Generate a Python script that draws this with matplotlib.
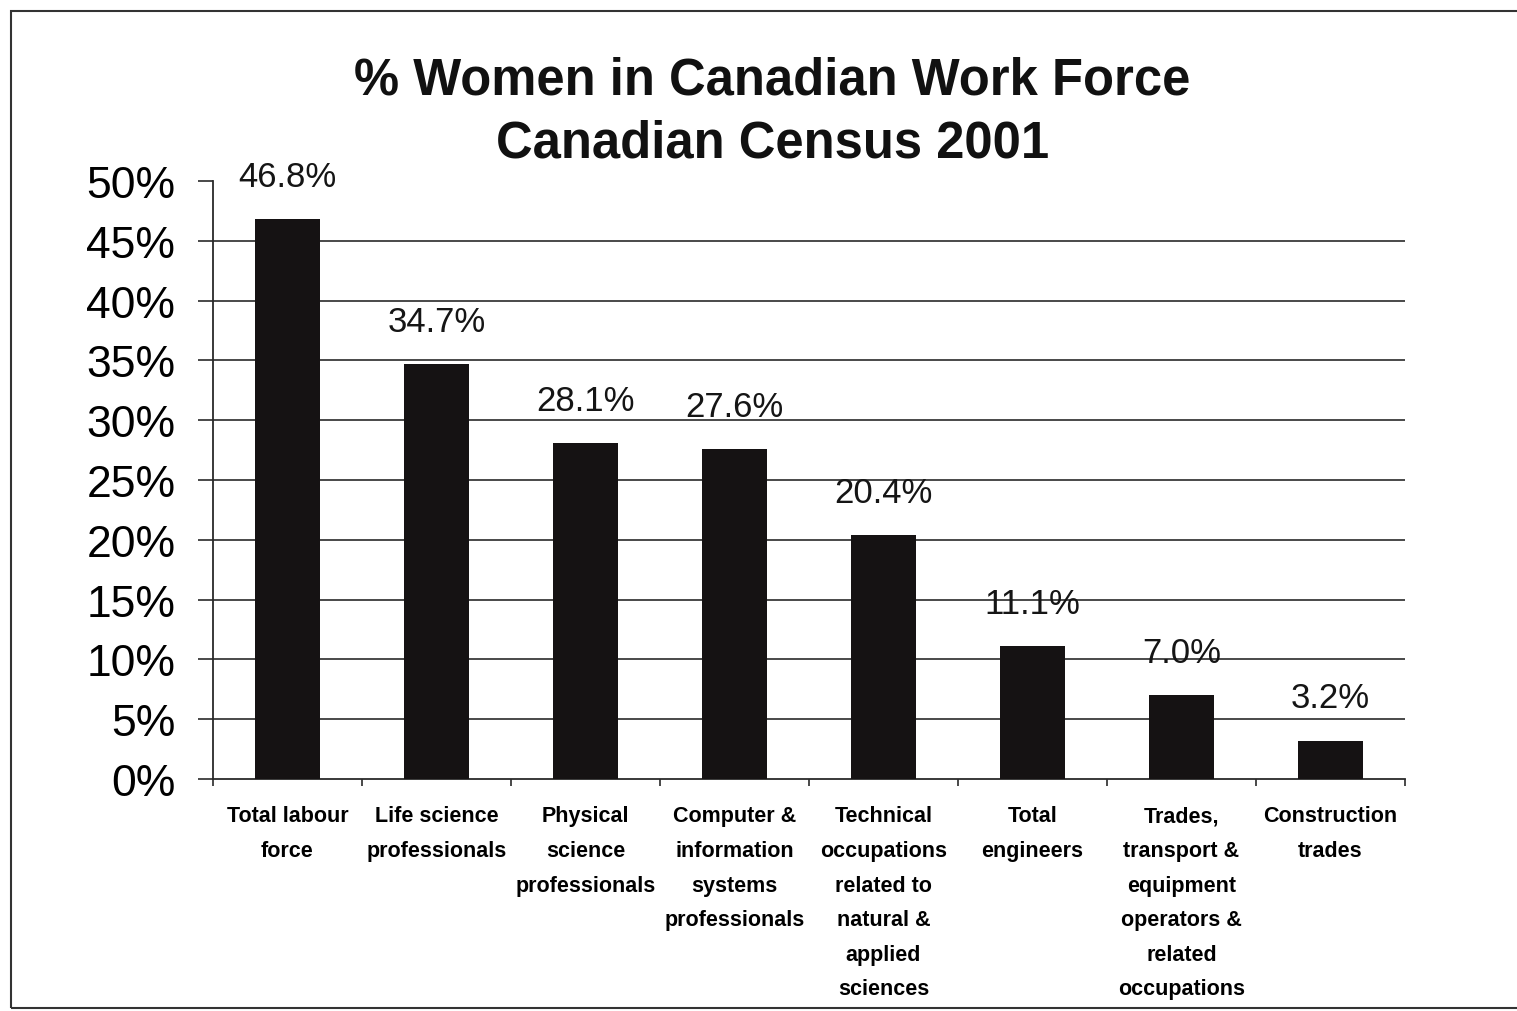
import numpy as np
import matplotlib
matplotlib.use("Agg")
import matplotlib.pyplot as plt
from matplotlib.patches import Rectangle
from matplotlib.ticker import FuncFormatter

plt.rcParams['font.family'] = ['Liberation Sans', 'DejaVu Sans']

title_lines = ["% Women in Canadian Work Force", "Canadian Census 2001"]

categories = [
    "Total labour\nforce",
    "Life science\nprofessionals",
    "Physical\nscience\nprofessionals",
    "Computer &\ninformation\nsystems\nprofessionals",
    "Technical\noccupations\nrelated to\nnatural &\napplied\nsciences",
    "Total\nengineers",
    "Trades,\ntransport &\nequipment\noperators &\nrelated\noccupations",
    "Construction\ntrades",
]
women_pct = [46.8, 34.7, 28.1, 27.6, 20.4, 11.1, 7.0, 3.2]
y_ticks = [0, 5, 10, 15, 20, 25, 30, 35, 40, 45, 50]

bar_color = "#151213"
line_color = "#2a2a2a"

fig = plt.figure(figsize=(15.17, 10.12), dpi=100)
ax = fig.add_axes([0.1404, 0.2292, 0.7858, 0.591])

x = np.arange(len(categories))
bars = ax.bar(x, women_pct, width=0.44, color=bar_color, zorder=3)

for xi, v in zip(x, women_pct):
    ax.annotate(f"{v:.1f}%", (xi, v), xytext=(0, 19), textcoords="offset points",
                ha="center", va="bottom", fontsize=25, color="#151515")

ax.set_xlim(-0.5, len(categories) - 0.5)
ax.set_ylim(0, 50)
ax.set_yticks(y_ticks)
ax.yaxis.set_major_formatter(FuncFormatter(lambda v, _: f"{v:.0f}%"))

# gridlines everywhere except the top value
for v in y_ticks[1:-1]:
    ax.axhline(v, color=line_color, lw=1.2, zorder=1)

# category labels sit between boundary ticks
ax.set_xticks(x)
ax.set_xticklabels(categories, fontsize=15.5, fontweight="bold", linespacing=1.85)
ax.set_xticks(np.arange(-0.5, len(categories)), minor=True)
ax.tick_params(axis="x", which="major", length=0, pad=19)
ax.tick_params(axis="x", which="minor", length=5, width=1.2, color=line_color)
ax.tick_params(axis="y", length=11, width=1.2, color=line_color, pad=16, labelsize=32)

for side in ["top", "right"]:
    ax.spines[side].set_visible(False)
for side in ["left", "bottom"]:
    ax.spines[side].set_color(line_color)
    ax.spines[side].set_linewidth(1.3)

fig.text(0.509, 0.920, title_lines[0], ha="center", va="center",
         fontsize=36.5, fontweight="bold", color="#111111")
fig.text(0.509, 0.858, title_lines[1], ha="center", va="center",
         fontsize=36.5, fontweight="bold", color="#111111")

# outer chart border
fig.patches.append(Rectangle((0.007, 0.003), 1.1, 0.985, transform=fig.transFigure,
                             fill=False, edgecolor="#333333", lw=1.5))

fig.savefig("out.png", dpi=100)
